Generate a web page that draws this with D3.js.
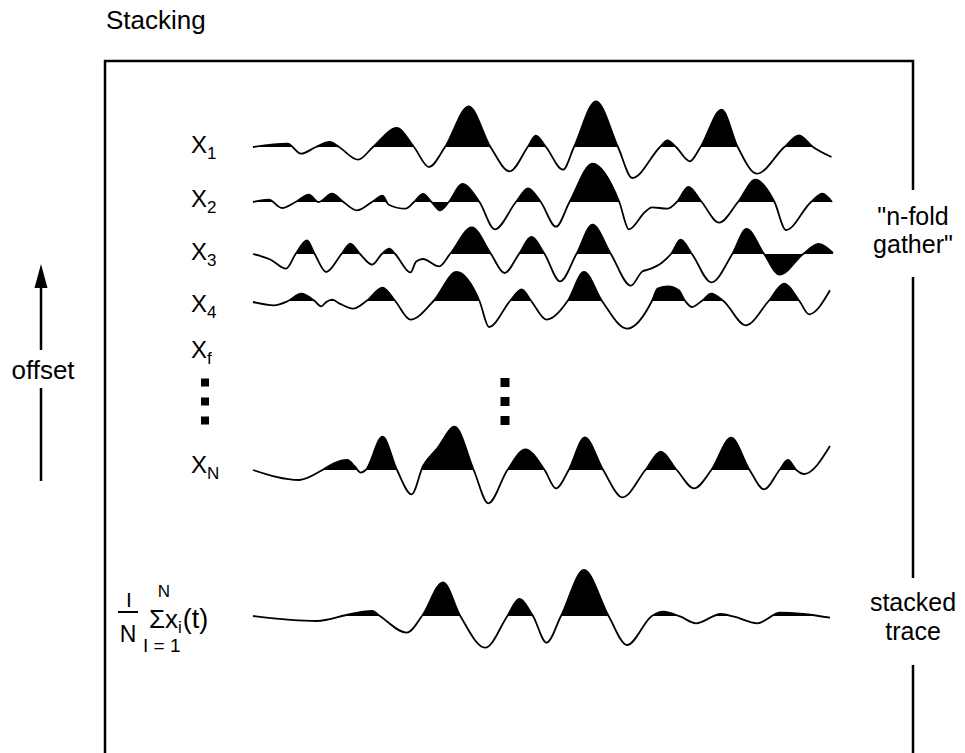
<html>
<head>
<meta charset="utf-8">
<title>Stacking</title>
<style>
  body { margin: 0; background: #fff; }
  text { font-family: "Liberation Sans", Arial, sans-serif; fill: #000; }
  .trace { fill: none; stroke: #000; stroke-width: 1.8px; stroke-linejoin: round; }
  .lobe { fill: #000; stroke: none; }
  .frame { fill: none; stroke: #000; stroke-width: 2.5px; }
</style>
</head>
<body>
<script src="https://cdn.jsdelivr.net/npm/d3@7"></script>
<script>

var width = 965,
    height = 753;

// [time, amplitude] (amplitude + = up)
var traceX1 = [[0,0],[34.5,3.3],[48,-6.7],[63,0],[76.6,5],[86,0],[105,-12.7],[120,0],[143.7,19],[161,0],
  [176,-20],[192,0],[215.7,40.7],[237.5,0],[256.7,-24.3],[274.7,0],[282.8,11.3],[293,0],[310,-22.7],[321,0],
  [343,45.7],[365,0],[379.3,-31],[407,0],[414.5,6.7],[423,0],[436.8,-14.3],[447.5,0],[468.6,37.3],[484.7,0],
  [503.8,-26.7],[531.4,0],[546,11.7],[560,0],[578.5,-10]];

var traceX2 = [[0,0],[15.7,2.3],[29,-6],[42.6,0],[56,7.3],[65.5,0],[79,8.3],[90.4,0],[103.9,-8.3],[119,0],
  [129.5,6.3],[135.7,-2.7],[152.5,-6.7],[161,0],[170,8],[178.6,0],[187,-8.3],[195.8,0],[209.2,18],[226.5,0],
  [241.8,-27.3],[262.9,0],[275,13.7],[287.8,0],[303,-24.7],[316.5,0],[339.5,38.3],[366.3,0],[375.9,-27.3],
  [392,-10],[398.9,-5.3],[414.2,-6.7],[423.8,0],[435.3,15],[448.7,0],[466,-20.7],[485,0],[502.3,22.3],
  [521.5,0],[533,-28],[558,0],[569.4,8.3],[579,0]];

var traceX3 = [[0,0],[17.7,-5.7],[33,-14.7],[42.6,0],[54,13.6],[61.7,0],[73.2,-18],[88.5,0],[97.3,10.3],[107,0],
  [119.2,-10.7],[128.8,0],[136.4,5.3],[142.2,0],[157.5,-18.4],[163.2,-7.4],[170,-5],[186.2,-12.4],[197,0],
  [218.8,26.6],[238,0],[251.4,-19],[266,0],[278.2,17],[291.6,0],[307,-27.4],[323.4,0],[339.5,29.3],[357.9,0],
  [377.8,-31.7],[389.3,-17.4],[395,-15.7],[408.5,-9],[418,0],[427.6,14.3],[439,0],[458.3,-28.4],[479.3,0],
  [493.5,25],[511.1,0],[526.5,-20.7],[550.2,0],[565.5,10],[580,1]];

var traceX4 = [[0,-1],[21,-4.3],[35,0],[48.3,7.4],[61.7,0],[68.2,-5.3],[73.2,-1],[79,1.4],[86.6,-2.6],[100,-7.6],
  [113.4,0],[129.5,13.4],[142.2,0],[157.5,-18.6],[180.5,0],[203.5,29],[226.5,0],[236,-26],[257,0],[268.6,11.7],
  [278.2,0],[293.5,-18.6],[314.6,0],[331,29],[349,0],[374,-27.6],[398.9,0],[404.6,12.4],[415.3,14.7],
  [425.7,10.7],[432.2,0],[439,-6],[448.7,0],[458.3,7.4],[470.5,0],[492.7,-24.3],[515.7,0],[531,17.4],
  [546.4,0],[556,-13.3],[577,10.7]];

var traceXN = [[0,0],[46.4,-10],[69.4,0],[80.9,6.7],[94.3,10],[102,3.3],[107.7,-2.7],[112.7,0],[129.5,33.3],
  [144,0],[158.6,-24.3],[170,4],[184.3,21.7],[201.6,43.3],[220.7,0],[235.3,-33.3],[254.4,0],[272.4,20.7],
  [291.6,0],[303,-18.3],[315.7,0],[331.8,32.7],[350.2,0],[369.4,-27.3],[392.4,0],[407.7,18.3],[423.8,0],
  [441,-18.3],[458.3,0],[478.2,32.3],[496.6,0],[511.1,-19.3],[526.5,0],[534.9,10],[543.3,0],[551,-4],[577,24]];

var traceStack = [[0,0],[63.6,-5],[98,2],[119.2,5],[126.8,0],[153.7,-16.7],[169,0],[190,33.7],[207.3,0],
  [232.2,-31.7],[254.4,0],[266,17],[280,0],[293.5,-26.7],[308,0],[331,46],[355.6,0],[374,-29],[398.9,0],
  [410.4,4.3],[427.6,-0.7],[443,-7.3],[467.8,2],[481.3,-0.7],[504.2,-7.3],[527.2,3.3],[550.2,2],[577,-1.7]];

var traceSubs = ["1", "2", "3", "4", "f", "N"];
// troughs that are shaded too [t0, t1]
var negX2 = [[178.6, 195.8]];
var negX3 = [[511.1, 550.2]];

var svg = d3.select("body").append("svg")
    .attr("width", width)
    .attr("height", height);

var x = d3.scaleLinear().domain([0, 580]).range([253, 833]);
var amp = d3.scaleLinear().domain([-50, 50]).range([50, -50]);

// fillEnd: the last upswing of X4 and XN is left open
var traces = [
  {data: traceX1, base: 147, neg: [], fillEnd: 580},
  {data: traceX2, base: 202, neg: negX2, fillEnd: 580},
  {data: traceX3, base: 254, neg: negX3, fillEnd: 580},
  {data: traceX4, base: 301, neg: [], fillEnd: 560},
  {data: traceXN, base: 470, neg: [], fillEnd: 555},
  {data: traceStack, base: 616, neg: [], fillEnd: 580}
];

var defs = svg.append("defs");

traces.forEach(function(tr, i) {
  var line = d3.line()
      .x(function(d){ return x(d[0]); })
      .y(function(d){ return tr.base + amp(d[1]); })
      .curve(d3.curveMonotoneX);
  var area = d3.area()
      .x(function(d){ return x(d[0]); })
      .y0(tr.base)
      .y1(function(d){ return tr.base + amp(d[1]); })
      .curve(d3.curveMonotoneX);

  // positive lobes
  defs.append("clipPath").attr("id", "pos" + i)
    .append("rect")
      .attr("x", 0).attr("y", tr.base - 100)
      .attr("width", x(tr.fillEnd)).attr("height", 100);
  svg.append("path").datum(tr.data)
      .attr("class", "lobe")
      .attr("clip-path", "url(#pos" + i + ")")
      .attr("d", area);

  // shaded negative lobes
  tr.neg.forEach(function(r, j) {
    defs.append("clipPath").attr("id", "neg" + i + "_" + j)
      .append("rect")
        .attr("x", x(r[0])).attr("y", tr.base)
        .attr("width", x(r[1]) - x(r[0])).attr("height", 100);
    svg.append("path").datum(tr.data)
        .attr("class", "lobe")
        .attr("clip-path", "url(#neg" + i + "_" + j + ")")
        .attr("d", area);
  });

  svg.append("path").datum(tr.data)
      .attr("class", "trace")
      .attr("d", line);
});

// frame, open at the bottom and broken on the right for the notes
svg.append("path").attr("class", "frame")
    .attr("d", "M105,753 L105,61 L913,61 L913,190 M913,277 L913,578 M913,665 L913,753");

svg.append("text").attr("x", 106).attr("y", 29).style("font-size", "26px").text("Stacking");

// row labels X1 ... XN
var labelY = [153, 207, 260, 312, 358, 473];
traceSubs.forEach(function(s, i) {
  var t = svg.append("text").attr("x", 191).attr("y", labelY[i]).style("font-size", "24px").text("X");
  t.append("tspan").attr("dy", 6).style("font-size", "17px").text(s);
});

// vertical dots
[382.5, 401.5, 420.5].forEach(function(cy) {
  svg.append("rect").attr("x", 201).attr("y", cy - 4).attr("width", 8).attr("height", 8);
  svg.append("rect").attr("x", x(252) - 4.5).attr("y", cy - 4.5).attr("width", 9).attr("height", 9);
});

// right notes
svg.append("text").attr("x", 913).attr("y", 225).attr("text-anchor", "middle").style("font-size", "25px").text("\"n-fold");
svg.append("text").attr("x", 913).attr("y", 253).attr("text-anchor", "middle").style("font-size", "25px").text("gather\"");
svg.append("text").attr("x", 913).attr("y", 611).attr("text-anchor", "middle").style("font-size", "25px").text("stacked");
svg.append("text").attr("x", 913).attr("y", 640).attr("text-anchor", "middle").style("font-size", "25px").text("trace");

// offset arrow
svg.append("path").attr("d", "M41,264 L47.5,288 L34.5,288 Z").attr("fill", "#000");
svg.append("path").attr("class", "frame").attr("d", "M41,286 L41,350 M41,388 L41,481");
svg.append("text").attr("x", 43).attr("y", 379).attr("text-anchor", "middle").style("font-size", "26px").text("offset");

// 1/N sum formula
svg.append("text").attr("x", 129).attr("y", 607).attr("text-anchor", "middle").style("font-size", "21px").text("I");
svg.append("line").attr("x1", 118).attr("x2", 138).attr("y1", 612).attr("y2", 612)
    .attr("stroke", "#000").attr("stroke-width", 2);
svg.append("text").attr("x", 128).attr("y", 642).attr("text-anchor", "middle").style("font-size", "23px").text("N");
svg.append("text").attr("x", 164).attr("y", 597).attr("text-anchor", "middle").style("font-size", "17px").text("N");
var sum = svg.append("text").attr("x", 149).attr("y", 628).style("font-size", "26px").text("Σx");
sum.append("tspan").attr("dy", 5).style("font-size", "17px").text("i");
sum.append("tspan").attr("dx", 1).attr("dy", -5).style("font-size", "27px").text("(t)");
svg.append("text").attr("x", 143).attr("y", 652).style("font-size", "19px").text("I = 1");

</script>
</body>
</html>
